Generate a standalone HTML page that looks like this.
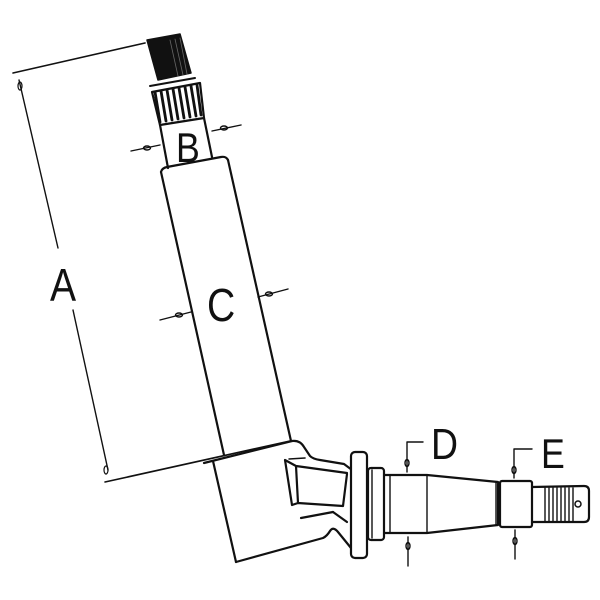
<!DOCTYPE html>
<html><head><meta charset="utf-8"><style>
html,body{margin:0;padding:0;background:#fff;width:600px;height:600px;overflow:hidden}
svg text{font-family:"Liberation Sans",sans-serif;fill:#111}
</style></head><body>
<svg width="600" height="600" viewBox="0 0 600 600" xmlns="http://www.w3.org/2000/svg" fill="none" stroke="#111" stroke-width="2.2" stroke-linejoin="round" stroke-linecap="round">
<!-- A dimension -->
<line x1="13" y1="73" x2="145" y2="43" stroke-width="1.6"/>
<line x1="19" y1="80" x2="58" y2="248" stroke-width="1.4"/>
<line x1="73" y1="310" x2="108" y2="470" stroke-width="1.4"/>
<ellipse cx="20" cy="86" rx="2" ry="4" stroke-width="1.2"/>
<ellipse cx="106" cy="470" rx="2" ry="4" stroke-width="1.2"/>
<line x1="105" y1="482" x2="290" y2="441" stroke-width="1.6"/>
<text x="0" y="0" font-size="46" stroke="none" transform="translate(50,301) scale(0.85,1)">A</text>
<!-- threaded top -->
<polygon points="147,40 180,34 191,73 158,80" fill="#111" stroke-width="1.5"/>
<g stroke="#666" stroke-width="0.8">
<line x1="170" y1="40" x2="178" y2="76"/><line x1="175" y1="39" x2="183" y2="75"/><line x1="180" y1="38" x2="187" y2="74"/>
</g>
<line x1="150" y1="86" x2="195" y2="78" stroke-width="2"/>
<!-- knurl -->
<polygon points="152,92 200,83 204,118 160,125" fill="#fff"/>
<g stroke-width="2.8">
<line x1="155" y1="92" x2="160" y2="122"/><line x1="161" y1="91" x2="166" y2="121"/><line x1="167" y1="90" x2="172" y2="120"/><line x1="173" y1="89" x2="178" y2="119"/><line x1="179" y1="88" x2="184" y2="118"/><line x1="185" y1="87" x2="190" y2="117"/><line x1="191" y1="86" x2="196" y2="116"/><line x1="197" y1="85" x2="201" y2="115"/>
</g>
<!-- B section -->
<line x1="160" y1="125" x2="168" y2="168"/>
<line x1="204" y1="118" x2="212" y2="157"/>
<text x="0" y="0" font-size="42" stroke="none" transform="translate(176,162) scale(0.85,1)">B</text>
<g stroke-width="1.4">
<line x1="131" y1="151" x2="160" y2="145"/><ellipse cx="147" cy="148" rx="3.5" ry="2"/>
<line x1="212" y1="131" x2="241" y2="125"/><ellipse cx="224" cy="128" rx="3.5" ry="2"/>
</g>
<!-- C shaft -->
<path d="M161,172 Q162,168 167,167 L221,157 Q226,156 228,160"/>
<line x1="161" y1="172" x2="224" y2="455"/>
<line x1="228" y1="160" x2="291" y2="441"/>
<text x="0" y="0" font-size="46" stroke="none" transform="translate(207,321) scale(0.85,1)">C</text>
<g stroke-width="1.4">
<line x1="160" y1="320" x2="191" y2="312"/><ellipse cx="179" cy="315" rx="3.5" ry="2"/>
<line x1="258" y1="297" x2="288" y2="289"/><ellipse cx="269" cy="294" rx="3.5" ry="2"/>
</g>
<!-- lower body -->
<path d="M204,463 L292,441 Q300,440 304,447 L310,456 Q313,459 320,460 L344,464 L352,470"/>
<line x1="213" y1="461" x2="236" y2="562"/>
<path d="M236,562 L323,538 Q327,536 330,531 Q333,526 338,532 L351,548"/>
<!-- slot -->
<path d="M285,460 L296,466 L347,473 M285,460 L292,505 L298,503 L296,466 M298,503 L343,506 L347,474"/>
<line x1="289" y1="459" x2="305" y2="458" stroke-width="1.5"/>
<line x1="301" y1="518" x2="333" y2="512"/>
<line x1="333" y1="512" x2="347" y2="522"/>
<!-- flange -->
<rect x="351" y="452" width="16" height="106" rx="4" fill="#fff"/>
<rect x="368" y="468" width="16" height="72" rx="3" fill="#fff"/>
<line x1="372" y1="470" x2="372" y2="538" stroke-width="1.4"/>
<!-- D shaft -->
<path d="M384,475 L390,475 L427,475 L498,482 L498,525 L427,533 L390,533 L384,533"/>
<line x1="390" y1="475" x2="390" y2="533" stroke-width="1.4"/>
<line x1="427" y1="476" x2="427" y2="532" stroke-width="1.4"/>
<line x1="496" y1="482" x2="496" y2="525" stroke-width="1.4"/>
<!-- E -->
<rect x="500" y="481" width="32" height="46" rx="2" fill="#fff"/>
<!-- thread end -->
<path d="M532,487 L584,486 Q589,486 589,491 L589,517 Q589,522 584,522 L532,522"/>
<g stroke-width="1.4">
<line x1="545" y1="488" x2="545" y2="521"/><line x1="549" y1="488" x2="549" y2="521"/><line x1="553" y1="488" x2="553" y2="521"/><line x1="557" y1="488" x2="557" y2="521"/><line x1="561" y1="488" x2="561" y2="521"/><line x1="565" y1="488" x2="565" y2="521"/><line x1="569" y1="488" x2="569" y2="521"/><line x1="573" y1="488" x2="573" y2="521"/>
</g>
<circle cx="578" cy="504" r="3" fill="#fff" stroke-width="1.5"/>
<!-- D dims -->
<text x="0" y="0" font-size="44" stroke="none" transform="translate(431,459) scale(0.85,1)">D</text>
<g stroke-width="1.4">
<polyline points="423,442 407,442 407,472"/><ellipse cx="407" cy="463" rx="2" ry="3.5"/>
<line x1="408" y1="537" x2="408" y2="566"/><ellipse cx="408" cy="546" rx="2" ry="3.5"/>
</g>
<text x="0" y="0" font-size="42" stroke="none" transform="translate(541,468) scale(0.85,1)">E</text>
<g stroke-width="1.4">
<polyline points="532,449 514,449 514,478"/><ellipse cx="514" cy="470" rx="2" ry="3.5"/>
<line x1="515" y1="530" x2="515" y2="559"/><ellipse cx="515" cy="541" rx="2" ry="3.5"/>
</g>
</svg>
</body></html>
